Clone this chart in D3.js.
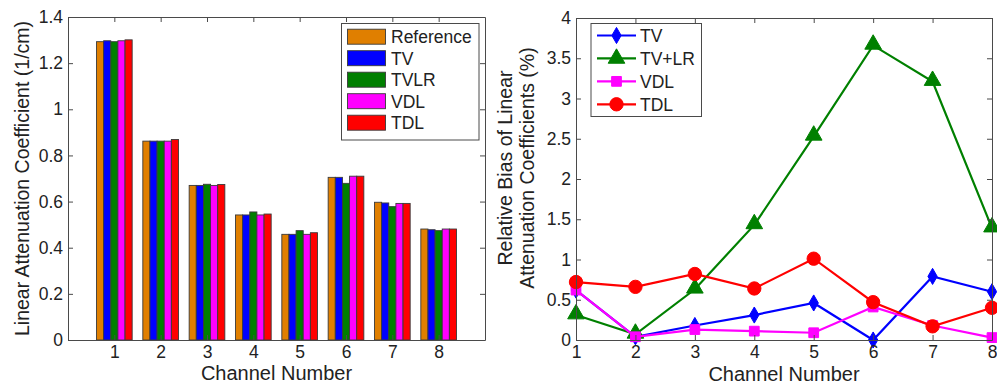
<!DOCTYPE html>
<html><head><meta charset="utf-8">
<script src="https://cdn.jsdelivr.net/npm/d3@7"></script>
<style>
html,body{margin:0;padding:0;background:#fff;}
svg{display:block;font-family:"Liberation Sans",Arial,sans-serif;}
</style></head><body>
<svg id="c" width="997" height="387"></svg>
<script>
// ---------- data ----------
const channels = [1,2,3,4,5,6,7,8];
const barSeries = ["Reference","TV","TVLR","VDL","TDL"];
const barColors = ["#E07F00","#0000FF","#007F00","#FF00FF","#FF0000"];
const refVals  = [1.293,0.862,0.670,0.542,0.458,0.705,0.597,0.481];
const tvVals   = [1.297,0.862,0.670,0.542,0.458,0.705,0.594,0.478];
const tvlrVals = [1.293,0.862,0.675,0.555,0.474,0.679,0.578,0.474];
const vdlVals  = [1.297,0.862,0.670,0.542,0.458,0.710,0.592,0.481];
const tdlVals  = [1.301,0.869,0.674,0.546,0.465,0.710,0.592,0.481];
const leftYTicks = [0,0.2,0.4,0.6,0.8,1,1.2,1.4];

const lineSeries = ["TV","TV+LR","VDL","TDL"];
const lineColors = ["#0000FF","#008000","#FF00FF","#FF0000"];
const biasTV   = [0.62,0.04,0.18,0.31,0.46,0.00,0.79,0.60];
const biasTVLR = [0.31,0.07,0.63,1.43,2.53,3.66,3.21,1.39];
const biasVDL  = [0.62,0.04,0.13,0.11,0.09,0.41,0.18,0.03];
const biasTDL  = [0.72,0.66,0.82,0.64,1.01,0.47,0.17,0.40];
const rightYTicks = [0,0.5,1,1.5,2,2.5,3,3.5,4];

const barData = [refVals,tvVals,tvlrVals,vdlVals,tdlVals];
const lineData = [biasTV,biasTVLR,biasVDL,biasTDL];

const svg = d3.select("#c");
const axisCol = "#4a4a4a", textCol = "#222";
const fmt = d => String(+(+d).toFixed(1));
const fmtInt = d3.format("d");

function styleAxis(g, showLabels, fs){
  g.selectAll("path.domain").attr("stroke", axisCol).attr("stroke-width",1);
  g.selectAll(".tick line").attr("stroke", axisCol);
  g.selectAll(".tick text").attr("fill", textCol).style("font-size", fs+"px")
    .style("font-family",'"Liberation Sans",Arial,sans-serif');
  if(!showLabels) g.selectAll(".tick text").remove();
}

// ---------- LEFT: grouped bars ----------
{
  const L = 68, R = 485, T = 17, B = 340;
  const x = d3.scaleLinear().domain([0,9]).range([L,R]);
  const y = d3.scaleLinear().domain([0,1.4]).range([B,T]);
  const groupW = x(0.77) - x(0);
  const inner = d3.scaleBand().domain(barSeries).range([-groupW/2, groupW/2]).padding(0);

  const gb = svg.append("g");
  barSeries.forEach((s,si) => {
    gb.selectAll(null).data(channels).enter().append("rect")
      .attr("x", (c,i) => x(c) + inner(s))
      .attr("y", (c,i) => y(barData[si][i]))
      .attr("width", inner.bandwidth())
      .attr("height", (c,i) => y(0) - y(barData[si][i]))
      .attr("fill", barColors[si])
      .attr("stroke", "#3a3a3a").attr("stroke-width", 0.9);
  });

  const xb = svg.append("g").attr("transform",`translate(0,${B})`)
    .call(d3.axisBottom(x).tickValues(channels).tickFormat(fmtInt).tickSizeInner(-5).tickSizeOuter(0).tickPadding(6));
  styleAxis(xb,true,17.5);
  const xt = svg.append("g").attr("transform",`translate(0,${T})`)
    .call(d3.axisTop(x).tickValues(channels).tickSizeInner(-5).tickSizeOuter(0));
  styleAxis(xt,false,17.5);
  const yl = svg.append("g").attr("transform",`translate(${L},0)`)
    .call(d3.axisLeft(y).tickValues(leftYTicks).tickFormat(fmt).tickSizeInner(-5).tickSizeOuter(0).tickPadding(5));
  styleAxis(yl,true,17.5);
  const yr = svg.append("g").attr("transform",`translate(${R},0)`)
    .call(d3.axisRight(y).tickValues(leftYTicks).tickSizeInner(-5).tickSizeOuter(0));
  styleAxis(yr,false,17.5);

  svg.append("text").attr("x",(L+R)/2).attr("y",380).attr("text-anchor","middle")
    .attr("fill",textCol).style("font-size","20px").text("Channel Number");
  svg.append("text").attr("transform",`translate(29,${(T+B)/2}) rotate(-90)`)
    .attr("text-anchor","middle").attr("fill",textCol).style("font-size","19.5px")
    .text("Linear Attenuation Coefficient (1/cm)");

  // legend
  const lg = svg.append("g");
  lg.append("rect").attr("x",341.5).attr("y",23.5).attr("width",137.5).attr("height",116.5)
    .attr("fill","#fff").attr("stroke",axisCol).attr("stroke-width",1);
  const ly = d3.scalePoint().domain(barSeries).range([36.7,122.7]);
  barSeries.forEach((s,si)=>{
    lg.append("rect").attr("x",347.5).attr("y",ly(s)-7.5).attr("width",38).attr("height",15)
      .attr("fill",barColors[si]).attr("stroke","#3a3a3a").attr("stroke-width",0.9);
    lg.append("text").attr("x",391).attr("y",ly(s)+6.5).attr("fill",textCol)
      .style("font-size","17.5px").text(s);
  });
}

// ---------- RIGHT: lines ----------
{
  const L = 576, R = 992, T = 18, B = 340;
  const x = d3.scaleLinear().domain([1,8]).range([L,R]);
  const y = d3.scaleLinear().domain([0,4]).range([B,T]);
  const symbols = [d3.symbolDiamond, d3.symbolTriangle, d3.symbolSquare, d3.symbolCircle];
  const sizes = [75, 120, 95, 140];

  const line = d3.line().x((d,i)=>x(channels[i])).y(d=>y(d));
  const gl = svg.append("g");
  lineData.forEach((vals,si)=>{
    gl.append("path").datum(vals).attr("d",line).attr("fill","none")
      .attr("stroke",lineColors[si]).attr("stroke-width",2.2);
    gl.selectAll(null).data(vals).enter().append("path")
      .attr("transform",(d,i)=>`translate(${x(channels[i])},${y(d) + (si===1?-1:0)})`)
      .attr("d", d3.symbol().type(symbols[si]).size(sizes[si]))
      .attr("fill",lineColors[si]).attr("stroke",lineColors[si]).attr("stroke-width",1);
  });

  const xb = svg.append("g").attr("transform",`translate(0,${B})`)
    .call(d3.axisBottom(x).tickValues(channels).tickFormat(fmtInt).tickSizeInner(-5).tickSizeOuter(0).tickPadding(6));
  styleAxis(xb,true,17.5);
  const xt = svg.append("g").attr("transform",`translate(0,${T})`)
    .call(d3.axisTop(x).tickValues(channels).tickSizeInner(-5).tickSizeOuter(0));
  styleAxis(xt,false,17.5);
  const yl = svg.append("g").attr("transform",`translate(${L},0)`)
    .call(d3.axisLeft(y).tickValues(rightYTicks).tickFormat(fmt).tickSizeInner(-5).tickSizeOuter(0).tickPadding(5));
  styleAxis(yl,true,17.5);
  const yr = svg.append("g").attr("transform",`translate(${R},0)`)
    .call(d3.axisRight(y).tickValues(rightYTicks).tickSizeInner(-5).tickSizeOuter(0));
  styleAxis(yr,false,17.5);

  svg.append("text").attr("x",(L+R)/2).attr("y",381).attr("text-anchor","middle")
    .attr("fill",textCol).style("font-size","20px").text("Channel Number");
  const yt = svg.append("text").attr("transform",`translate(0,${168}) rotate(-90)`)
    .attr("text-anchor","middle").attr("fill",textCol).style("font-size","19.5px");
  yt.append("tspan").attr("x",0).attr("y",512).text("Relative Bias of Linear");
  yt.append("tspan").attr("x",0).attr("y",534).text("Attenuation Coefficients (%)");

  // legend
  const lg = svg.append("g");
  lg.append("rect").attr("x",591).attr("y",23.5).attr("width",110.5).attr("height",93)
    .attr("fill","#fff").attr("stroke",axisCol).attr("stroke-width",1);
  const ly = d3.scalePoint().domain(lineSeries).range([35.5,104.3]);
  lineSeries.forEach((s,si)=>{
    lg.append("line").attr("x1",597).attr("x2",636).attr("y1",ly(s)).attr("y2",ly(s))
      .attr("stroke",lineColors[si]).attr("stroke-width",2.2);
    lg.append("path").attr("transform",`translate(616.5,${ly(s)})`)
      .attr("d", d3.symbol().type(symbols[si]).size(sizes[si]))
      .attr("fill",lineColors[si]).attr("stroke",lineColors[si]).attr("stroke-width",1);
    lg.append("text").attr("x",640).attr("y",ly(s)+6.5).attr("fill",textCol)
      .style("font-size","17.5px").text(s);
  });
}
</script>
</body></html>
